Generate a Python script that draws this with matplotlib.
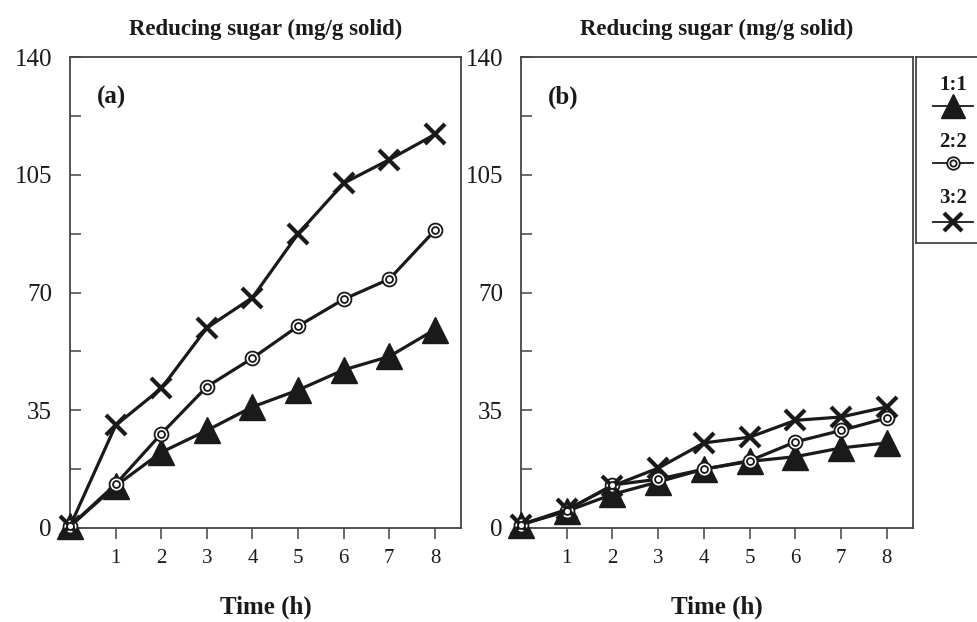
import numpy as np
import matplotlib.pyplot as plt
from matplotlib.lines import Line2D

plt.rcParams['font.family'] = ['Liberation Serif', 'DejaVu Serif']

# time points (h)
time_h = [0, 1, 2, 3, 4, 5, 6, 7, 8]

# (a) reducing sugar, mg/g solid
a_11 = [0.5, 12.5, 22.5, 29, 36, 41, 47, 51, 59]
a_22 = [0.5, 13, 28, 42, 50.5, 60, 68, 74, 88.5]
a_32 = [0.5, 30.5, 41.5, 59.5, 68.5, 87.5, 102.5, 109.5, 117]

# (b) reducing sugar, mg/g solid
b_11 = [1, 5, 10, 13.7, 17.5, 19.8, 21.2, 23.8, 25.3]
b_22 = [1, 5.2, 12.8, 14.5, 17.5, 20, 25.6, 29, 32.7]
b_32 = [1, 5.5, 12.5, 17.8, 25.3, 27, 32, 33, 36]

ratio_labels = ['1:1', '2:2', '3:2']
panel_tags = ['(a)', '(b)']
y_major = [0, 35, 70, 105, 140]
y_minor = [17.5, 52.5, 87.5, 122.5]
x_ticks = [1, 2, 3, 4, 5, 6, 7, 8]

ink = '#1a1a1a'
frame = '#444444'

fig = plt.figure(figsize=(9.77, 6.22), dpi=100)
W, H = 977, 622


def box(l, r, t, b):
    return [l / W, 1 - b / H, (r - l) / W, (b - t) / H]


ax_a = fig.add_axes(box(70, 461, 57, 528))
ax_b = fig.add_axes(box(521, 913, 57, 528))

tri = dict(marker='^', ms=19, mfc=ink, mec=ink)
ring = dict(marker='o', ms=10, mfc='white', mec=ink, mew=1.3)
cross = dict(marker='x', ms=14, mec=ink, mew=3)


def draw_series(ax, s11, s22, s32):
    ax.plot(time_h, s11, color=ink, lw=2.3, zorder=3, clip_on=False, **tri)
    ax.plot(time_h, s22, color=ink, lw=2.3, zorder=4, clip_on=False, **ring)
    ax.plot(time_h, s22, ls='none', marker='o', ms=5, clip_on=False,
            mfc='white', mec=ink, mew=1.3, zorder=5)
    ax.plot(time_h, s32, color=ink, lw=2.3, zorder=4, clip_on=False, **cross)


draw_series(ax_a, a_11, a_22, a_32)
draw_series(ax_b, b_11, b_22, b_32)

for ax, tag in zip([ax_a, ax_b], panel_tags):
    ax.set_xlim(0, 8.57)
    ax.set_ylim(0, 140)
    ax.set_yticks(y_major)
    ax.set_yticks(y_minor, minor=True)
    ax.set_xticks(x_ticks)
    ax.tick_params(axis='y', which='both', direction='in', length=8,
                   width=1.1, color=frame, labelsize=18, pad=13)
    ax.tick_params(axis='x', direction='out', length=8, width=1.1,
                   color=frame, labelsize=15, pad=7)
    for sp in ax.spines.values():
        sp.set_color(frame)
        sp.set_linewidth(1.3)
    ax.text(0.068, 0.915, tag, transform=ax.transAxes, fontsize=18,
            fontweight='bold', va='center', ha='left', color=ink)
    ax.set_xlabel('Time (h)', fontsize=18, fontweight='bold', labelpad=20,
                  color=ink)
    ax.set_title('Reducing sugar (mg/g solid)', fontsize=16.5,
                 fontweight='bold', pad=16, color=ink)
    for lab in ax.get_xticklabels() + ax.get_yticklabels():
        lab.set_color(ink)

# legend box at right edge, labels stacked above the samples
leg = fig.add_axes(box(916, 1000, 57, 243))
leg.set_xlim(0, 1)
leg.set_ylim(0, 1)
leg.set_xticks([])
leg.set_yticks([])
for sp in leg.spines.values():
    sp.set_color(frame)
    sp.set_linewidth(1.3)
leg_styles = [dict(tri, ms=17), dict(ring, ms=9), dict(cross, ms=13)]
text_y = [0.85, 0.543, 0.242]
mark_y = [0.737, 0.43, 0.113]
for lab, st, yt, ym in zip(ratio_labels, leg_styles, text_y, mark_y):
    leg.text(0.44, yt, lab, fontsize=15, fontweight='bold', ha='center',
             va='center', color=ink)
    leg.add_line(Line2D([0.2, 0.44, 0.68], [ym, ym, ym], color=ink, lw=1.3,
                        markevery=[1], **st))
    if st['marker'] == 'o':
        leg.add_line(Line2D([0.44], [ym], ls='none', marker='o', ms=4.5,
                            mfc='white', mec=ink, mew=1.3))

fig.savefig('out.png', dpi=100)
